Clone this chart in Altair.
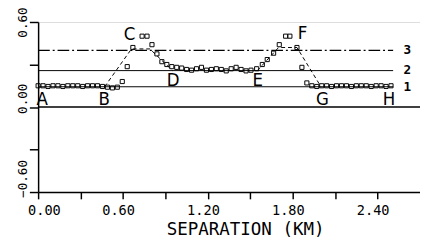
import altair as alt
import pandas as pd

# observed points (separation km, value)
sep_km = [0.00, 0.035, 0.07, 0.105, 0.14, 0.175, 0.21, 0.245, 0.28, 0.315, 0.35, 0.385,
          0.42, 0.455, 0.49, 0.525, 0.56, 0.595, 0.63, 0.67, 0.735, 0.77, 0.805, 0.84,
          0.875, 0.91, 0.945, 0.98, 1.015, 1.05, 1.085, 1.12, 1.155, 1.19, 1.225, 1.26,
          1.295, 1.33, 1.365, 1.40, 1.435, 1.47, 1.505, 1.545, 1.585, 1.62, 1.665, 1.705,
          1.75, 1.78, 1.83, 1.865, 1.90, 1.935, 1.97, 2.005, 2.04, 2.075, 2.11, 2.145,
          2.18, 2.215, 2.25, 2.285, 2.32, 2.355, 2.39, 2.425, 2.46, 2.495]
values = [0.15, 0.15, 0.145, 0.15, 0.15, 0.145, 0.15, 0.15, 0.15, 0.145, 0.15, 0.15,
          0.15, 0.145, 0.14, 0.135, 0.14, 0.18, 0.285, 0.42, 0.50, 0.50, 0.44, 0.375,
          0.32, 0.30, 0.285, 0.28, 0.275, 0.265, 0.26, 0.27, 0.28, 0.26, 0.265, 0.27,
          0.265, 0.255, 0.27, 0.28, 0.265, 0.255, 0.26, 0.27, 0.30, 0.335, 0.38, 0.44,
          0.50, 0.50, 0.42, 0.28, 0.17, 0.15, 0.145, 0.15, 0.15, 0.145, 0.15, 0.15,
          0.15, 0.145, 0.15, 0.15, 0.15, 0.145, 0.15, 0.15, 0.145, 0.15]

# reference levels
level_values = [0.143, 0.257, 0.40]
level_names = ["1", "2", "3"]
level_start = 0.0
level_end = 2.51
label_x = 2.61

# dashed model outline
model_x = [0.47, 0.66, 0.79, 0.95, 1.55, 1.70, 1.83, 2.00]
model_y = [0.143, 0.41, 0.41, 0.257, 0.257, 0.42, 0.42, 0.143]
model_seg = ["a", "a", "a", "a", "b", "b", "b", "b"]

# point letters
letters = ["A", "B", "C", "D", "E", "F", "G", "H"]
letter_x = [0.028, 0.467, 0.646, 0.955, 1.553, 1.87, 2.01, 2.48]
letter_y = [0.012, 0.012, 0.47, 0.15, 0.15, 0.477, 0.012, 0.012]

x_ticks = [0.0, 0.3, 0.6, 0.9, 1.2, 1.5, 1.8, 2.1, 2.4]
y_ticks = [-0.6, -0.3, 0.0, 0.3, 0.6]

XDOM = [0, 2.7]
YDOM = [-0.6, 0.6]

mono = "DejaVu Sans Mono"
narrow = "Liberation Sans Narrow, DejaVu Sans Condensed, Liberation Sans"

xs = alt.Scale(domain=XDOM, nice=False, zero=False)
ys = alt.Scale(domain=YDOM, nice=False, zero=False)

pts = pd.DataFrame({"x": sep_km, "y": values})
lv = pd.DataFrame({"y": level_values, "name": level_names,
                   "x": [level_start] * 3, "x2": [level_end] * 3, "lx": [label_x] * 3})
md = pd.DataFrame({"x": model_x, "y": model_y, "seg": model_seg})
lt = pd.DataFrame({"t": letters, "x": letter_x, "y": letter_y})
zero = pd.DataFrame({"x": [XDOM[0]], "x2": [XDOM[1]], "y": [0.0]})

xaxis = alt.Axis(values=x_ticks, title="SEPARATION (KM)",
                 labelExpr="(round(datum.value*10) % 6 == 0) ? format(datum.value, '.2f') : ''",
                 labelFont=mono, labelFontSize=14, labelColor="black", labelFlush=False,
                 labelOffset={"condition": {"test": "datum.value == 0", "value": 6}, "value": -5},
                 labelPadding=5, tickSize=7, tickColor="black", domainColor="black",
                 domainWidth=1.5, tickWidth=1.5, grid=False,
                 titleFont=mono, titleFontSize=18, titleFontWeight="normal", titleColor="black",
                 titleX=213, titleY=44, titleBaseline="alphabetic", titleAlign="center")
yaxis = alt.Axis(values=y_ticks, title=None,
                 labelExpr="(abs(datum.value) > 0.4 || datum.value == 0) ? format(datum.value, '.2f') : ''",
                 labelFont=mono, labelFontSize=13, labelColor="black", labelAngle=270,
                 labelAlign="center", labelBaseline="bottom", labelPadding=0, labelFlush=False,
                 labelOffset={"condition": [{"test": "datum.value == 0", "value": -9},
                                            {"test": "datum.value < -0.5", "value": -14}],
                              "value": 0},
                 tickSize=9, tickColor="black", domainColor="black", domainWidth=1.5,
                 tickWidth=1.5, grid=False)

base_x = alt.X("x:Q", scale=xs, axis=xaxis)
base_y = alt.Y("y:Q", scale=ys, axis=yaxis)

zero_line = alt.Chart(zero).mark_rule(color="black", strokeWidth=1.5).encode(
    x=base_x, x2="x2:Q", y=base_y)

l1 = alt.Chart(lv[lv.name == "1"]).mark_rule(color="black", strokeWidth=1).encode(
    x=alt.X("x:Q", scale=xs), x2="x2:Q", y=alt.Y("y:Q", scale=ys))
l2 = alt.Chart(lv[lv.name == "2"]).mark_rule(color="black", strokeWidth=1).encode(
    x=alt.X("x:Q", scale=xs), x2="x2:Q", y=alt.Y("y:Q", scale=ys))
l3 = alt.Chart(lv[lv.name == "3"]).mark_rule(color="black", strokeWidth=1.3,
                                             strokeDash=[12, 3, 2, 3]).encode(
    x=alt.X("x:Q", scale=xs), x2="x2:Q", y=alt.Y("y:Q", scale=ys))

lvl_text = alt.Chart(lv).mark_text(font=mono, fontSize=13, fontWeight="bold",
                                   color="black", align="center", baseline="middle").encode(
    x=alt.X("lx:Q", scale=xs), y=alt.Y("y:Q", scale=ys), text="name:N")

model = alt.Chart(md).mark_line(color="black", strokeWidth=1, strokeDash=[4, 3]).encode(
    x=alt.X("x:Q", scale=xs), y=alt.Y("y:Q", scale=ys), detail="seg:N")

points = alt.Chart(pts).mark_point(shape="square", filled=False, size=18,
                                   color="black", strokeWidth=1, opacity=1).encode(
    x=alt.X("x:Q", scale=xs), y=alt.Y("y:Q", scale=ys))

letter_text = alt.Chart(lt).mark_text(font=narrow, fontSize=19,
                                      color="black", align="center",
                                      baseline="alphabetic").encode(
    x=alt.X("x:Q", scale=xs), y=alt.Y("y:Q", scale=ys), text="t:N")

chart = alt.layer(zero_line, l1, l2, l3, model, points, lvl_text, letter_text).properties(
    width=393, height=175,
    autosize=alt.AutoSizeParams(type="none"),
    padding={"left": 31, "top": 11, "right": 0, "bottom": 48},
).configure_view(stroke=None).configure(background="white")

chart.save("out.html", embed_options={"renderer": "svg", "actions": False})
